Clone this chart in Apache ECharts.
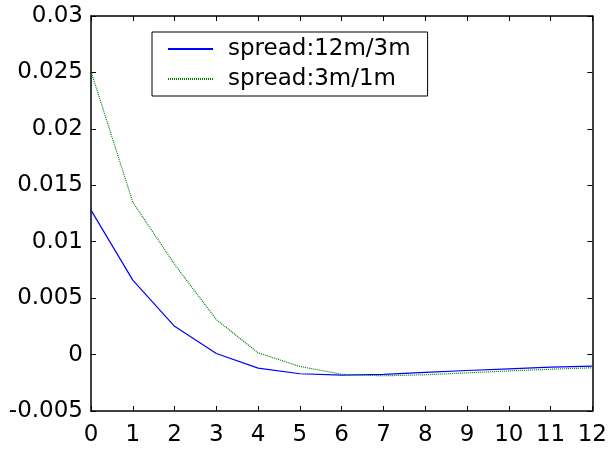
<!DOCTYPE html>
<html>
<head>
<meta charset="utf-8">
<script src="https://cdn.jsdelivr.net/npm/echarts@6/dist/echarts.min.js"></script>
<style>html,body{margin:0;padding:0;background:#fff}#c{width:610px;height:451px}</style>
</head>
<body>
<div id="c"></div>
<script>
const xValues = [0, 1, 2, 3, 4, 5, 6, 7, 8, 9, 10, 11, 12];
const spread12m3m = [0.0128, 0.0066, 0.0025, 0.0001, -0.0012, -0.0017, -0.00183, -0.00176, -0.00158, -0.00141, -0.00126, -0.00112, -0.00102];
const spread3m1m = [0.0251, 0.0135, 0.0080, 0.0031, 0.00015, -0.00105, -0.00175, -0.00188, -0.00179, -0.00162, -0.00145, -0.0013, -0.00117];
const seriesNames = ['spread:12m/3m', 'spread:3m/1m'];

const FONT = 'DejaVu Sans';
const chart = echarts.init(document.getElementById('c'), null, {renderer: 'canvas'});
const fmt = v => String(+v.toFixed(3));
const axisLine = {show: true, onZero: false, lineStyle: {color: '#000', width: 1.5}};
const tick = {show: true, inside: true, length: 5, lineStyle: {color: '#000', width: 1}};

chart.setOption({
  animation: false,
  backgroundColor: '#fff',
  grid: {left: 91, right: 17, top: 16, bottom: 40, containLabel: false},
  legend: {
    left: 152, top: 32, orient: 'vertical',
    borderColor: '#000', borderWidth: 1, backgroundColor: '#fff',
    padding: [4, 17, 4, 15], itemGap: 4, itemWidth: 45, itemHeight: 14,
    itemStyle: {opacity: 0},
    textStyle: {fontFamily: FONT, fontSize: 23, color: '#000', lineHeight: 26, padding: [0, 0, 0, 10]},
    data: seriesNames
  },
  xAxis: [
    {type: 'value', min: 0, max: 12, interval: 1, position: 'bottom',
     axisLine, axisTick: tick, splitLine: {show: false},
     axisLabel: {fontFamily: FONT, fontSize: 23, color: '#000', margin: 13, formatter: fmt}},
    {type: 'value', min: 0, max: 12, interval: 1, position: 'top',
     axisLine, axisTick: tick, splitLine: {show: false}, axisLabel: {show: false}}
  ],
  yAxis: [
    {type: 'value', min: -0.005, max: 0.03, interval: 0.005, position: 'left',
     axisLine, axisTick: tick, splitLine: {show: false},
     axisLabel: {fontFamily: FONT, fontSize: 23, color: '#000', margin: 8, formatter: fmt}},
    {type: 'value', min: -0.005, max: 0.03, interval: 0.005, position: 'right',
     axisLine, axisTick: tick, splitLine: {show: false}, axisLabel: {show: false}}
  ],
  series: [
    {name: seriesNames[0], type: 'line', symbol: 'none', color: '#0000ff',
     lineStyle: {color: '#0000ff', width: 1.2, type: 'solid'},
     data: xValues.map((x, i) => [x, spread12m3m[i]])},
    {name: seriesNames[1], type: 'line', symbol: 'none', color: '#008000',
     lineStyle: {color: '#008000', width: 1.2, type: [1, 1]},
     data: xValues.map((x, i) => [x, spread3m1m[i]])}
  ]
});
</script>
</body>
</html>
